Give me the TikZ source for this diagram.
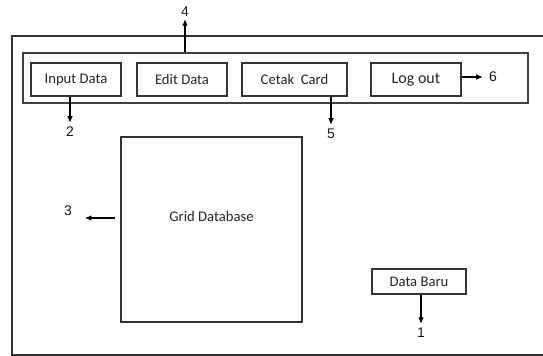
\documentclass[tikz,border=0pt]{standalone}
\usepackage{fontspec}
\setmainfont{Carlito}
\newfontfamily\numfont{Liberation Sans}
\usetikzlibrary{arrows.meta,shadows}
\tikzset{
  px/.style={x=0.75pt,y=-0.75pt},
  menubox/.style={draw=black!80, line width=0.9pt, fill=white, inner sep=0pt,
    minimum height=33*0.75pt, font=\fontsize{11}{13}\selectfont, text=black!85},
  barbox/.style={draw=black!75, line width=0.9pt, fill=white, inner sep=0pt,
    drop shadow={shadow xshift=1.1pt, shadow yshift=-1.1pt, fill=black!45, opacity=1}},
  numlabel/.style={font=\numfont\fontsize{10.5}{12}\selectfont, text=black!90, inner sep=1.5pt},
  arr/.style={draw=black, line width=0.8pt, -{Latex[length=5pt,width=4.2pt]}},
  frame/.style={draw=black!80, line width=0.9pt}
}
\begin{document}
\begin{tikzpicture}[px]
  \useasboundingbox (0,0) rectangle (543,356);

  % outer window frame, open on the right side
  \draw[frame] (543,36) -- (12,36) -- (12,355) -- (543,355);

  % toolbar with menu buttons
  \node[barbox, minimum width=505*0.75pt, minimum height=50*0.75pt] (bar) at (275.5,78) {};
  \node[menubox, minimum width=90*0.75pt] (in) at (76,79.5) {Input Data};
  \node[menubox, minimum width=90*0.75pt] (ed) at (182,79.5) {Edit Data};
  \node[menubox, minimum width=105*0.75pt] (cc) at (294.5,79.5) {Cetak\ \ Card};
  \node[menubox, minimum width=90*0.75pt, font=\fontsize{12}{14}\selectfont] (lo) at (416,79.5) {Log out};

  % data grid
  \node[menubox, minimum width=181*0.75pt, minimum height=185*0.75pt] (grid) at (211.5,229.5) {};
  \node[font=\fontsize{11}{13}\selectfont, text=black!85] (gridtxt) at (211.5,216) {Grid Database};

  % new record button
  \node[menubox, minimum width=94*0.75pt, minimum height=25*0.75pt] (db) at (419,281.5) {Data Baru};

  % numbered callouts
  \node[numlabel] (n4) at (185,12) {4};
  \node[numlabel] (n2) at (70,132) {2};
  \node[numlabel] (n5) at (331,134) {5};
  \node[numlabel] (n6) at (493,77) {6};
  \node[numlabel] (n3) at (68,211) {3};
  \node[numlabel] (n1) at (421,333) {1};
  \coordinate (a3) at (0,218);

  \draw[arr] (n4 |- bar.north) -- (n4.south);
  \draw[arr] (n2 |- in.south) -- ([yshift=1.5pt]n2.north);
  \draw[arr] (n5 |- cc.south) -- ([yshift=1.5pt]n5.north);
  \draw[arr, shorten >=3pt] (lo.east |- n6) -- (n6.west);
  \draw[arr, shorten <=3.75pt, shorten >=8pt] (grid.west |- a3) -- (n3.east |- a3);
  \draw[arr] (n1 |- db.south) -- ([yshift=1.5pt]n1.north);
\end{tikzpicture}
\end{document}
